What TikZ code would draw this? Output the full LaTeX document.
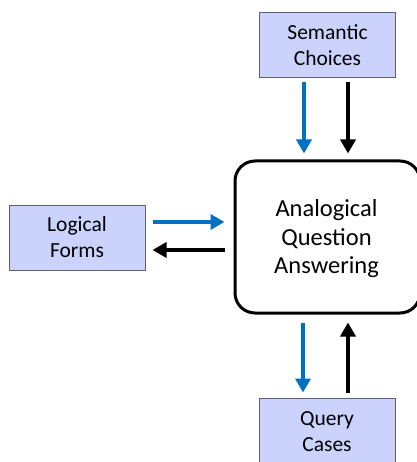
\documentclass[tikz,border=0pt]{standalone}
\usepackage{fontspec}
\setmainfont{Carlito}
\usetikzlibrary{arrows.meta}
\definecolor{boxfill}{RGB}{203,211,252}
\definecolor{boxdraw}{RGB}{95,95,115}
\definecolor{arrblue}{RGB}{0,112,192}
\begin{document}
\begin{tikzpicture}[x=1pt,y=-1pt,
  srcbox/.style={draw=boxdraw,line width=1pt,fill=boxfill,minimum width=136pt,minimum height=65pt,
    align=center,inner sep=0pt,font=\fontsize{21.5}{26}\selectfont},
  mainbox/.style={draw=black,line width=3pt,rounded corners=20pt,minimum width=185pt,minimum height=152pt,
    align=center,inner sep=0pt,font=\fontsize{24.5}{28.5}\selectfont},
  arr/.style={line width=4pt,-{Triangle[width=15pt,length=14pt]}},
  bluearr/.style={arr,draw=arrblue,fill=arrblue},
  blackarr/.style={arr,draw=black,fill=black}]
\useasboundingbox (0,0) rectangle (416,462);
\node[srcbox] (sem) at (327.5,45.5) {Semantic\\Choices};
\node[srcbox] (log) at (77,237.5) {Logical\\Forms};
\node[srcbox,minimum height=67pt] (qry) at (327,431.5) {Query\\Cases};
\node[mainbox] (main) at (327.5,237) {};
\node[font=\fontsize{24.5}{28.5}\selectfont,align=center,inner sep=0pt] (maintext) at (326.5,239) {Analogical\\Question\\Answering};
% top
\draw[bluearr] ([xshift=-23.5pt,yshift=-4pt]sem.south) -- ([xshift=-23.5pt,yshift=6pt]main.north);
\draw[blackarr] ([xshift=20.5pt,yshift=-4pt]sem.south) -- ([xshift=20.5pt,yshift=6pt]main.north);
% left
\draw[bluearr] ([xshift=7pt,yshift=15.5pt]log.east) -- ([xshift=-9pt,yshift=15pt]main.west);
\draw[blackarr] ([xshift=-9pt,yshift=-13pt]main.west) -- ([xshift=7pt,yshift=-12.5pt]log.east);
% bottom
\draw[bluearr] ([xshift=-24.5pt,yshift=-8pt]main.south) -- ([xshift=-24pt,yshift=5pt]qry.north);
\draw[blackarr] ([xshift=21pt,yshift=5pt]qry.north) -- ([xshift=20.5pt,yshift=-8pt]main.south);
\end{tikzpicture}
\end{document}
